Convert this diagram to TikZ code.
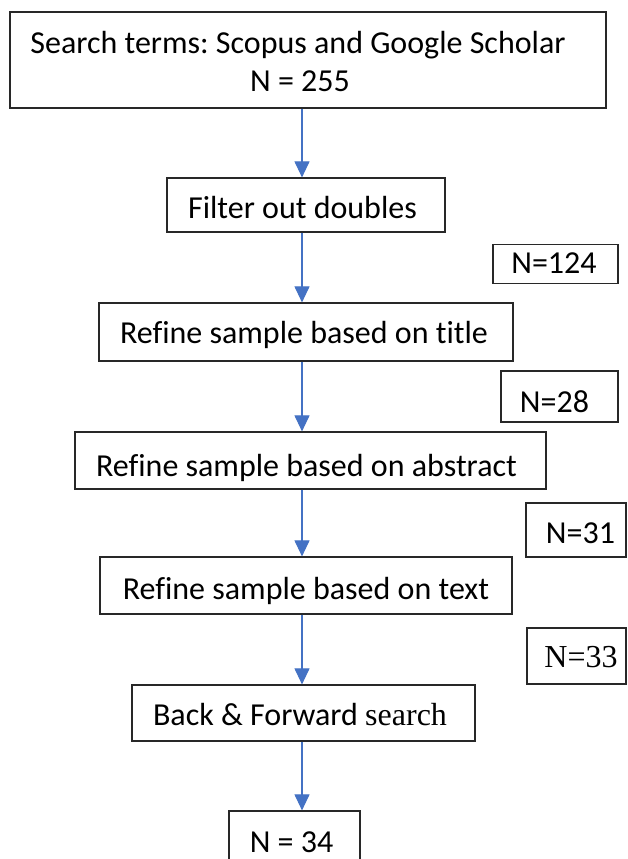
\documentclass[tikz,border=0pt]{standalone}
\usepackage{fontspec}
\setmainfont[Ligatures=NoCommon,RawFeature={-liga;-clig}]{Carlito}
\newfontfamily\timesfont{Liberation Serif}
\usetikzlibrary{arrows.meta}
\definecolor{arrblue}{RGB}{68,114,196}
\definecolor{boxline}{RGB}{40,40,40}
\frenchspacing
\tikzset{
  box/.style={draw=boxline, line width=1.2pt, inner sep=0pt, fill=none},
  txt/.style={inner sep=0pt, anchor=base, font=\fontsize{32}{38}\selectfont},
  arr/.style={draw=arrblue, line width=1.1pt, -{Triangle[width=15pt,length=16pt]}}
}
\begin{document}
\begin{tikzpicture}[x=1pt,y=-1pt]
\useasboundingbox (0,0) rectangle (627,859);
\fill[white] (0,0) rectangle (627,859);
\coordinate (ax) at (302,0);
% boxes
\node[box, minimum width=596pt, minimum height=96pt] (top) at (308,60) {};
\node[box, minimum width=278pt, minimum height=54pt] (filter) at (306,205) {};
\node[box, minimum width=125pt, minimum height=39pt] (n124) at (555.5,264) {};
\node[box, minimum width=414pt, minimum height=58pt] (title) at (306,332) {};
\node[box, minimum width=117pt, minimum height=51pt] (n28) at (559.5,396.5) {};
\node[box, minimum width=471pt, minimum height=57pt] (abstract) at (310.5,460.5) {};
\node[box, minimum width=100pt, minimum height=54pt] (n31) at (576,530) {};
\node[box, minimum width=412pt, minimum height=57pt] (textbox) at (306,585.5) {};
\node[box, minimum width=99pt, minimum height=56pt] (n33) at (576.5,656) {};
\node[box, minimum width=343pt, minimum height=56pt] (back) at (303.5,713) {};
\node[box, minimum width=131pt, minimum height=80pt] (final) at (294.5,851) {};
% texts
\node[txt] (t1a) at (298,53) {Search terms: Scopus and Google Scholar};
\node[txt] (t1b) at (300,92) {N = 255};
\node[txt] (t2) at (302.5,218) {Filter out doubles};
\node[txt] (t3) at (554,273) {N=124};
\node[txt] (t4) at (304,343) {Refine sample based on title};
\node[txt] (t5) at (554.5,412) {N=28};
\node[txt] (t6) at (306.5,476) {Refine sample based on abstract};
\node[txt] (t7) at (580.5,543) {N=31};
\node[txt] (t8) at (306,599) {Refine sample based on text};
\node[txt, font=\fontsize{32}{38}\selectfont\timesfont] (t9) at (581,667) {N=33};
\node[txt] (t10) at (300,725) {Back \& Forward {\timesfont search}};
\node[txt] (t11) at (291.5,852) {N = 34};
% arrows
\draw[arr] (top.south -| ax) -- (filter.north -| ax);
\draw[arr] (filter.south -| ax) -- (title.north -| ax);
\draw[arr] (title.south -| ax) -- (abstract.north -| ax);
\draw[arr] (abstract.south -| ax) -- (textbox.north -| ax);
\draw[arr] (textbox.south -| ax) -- (back.north -| ax);
\draw[arr] (back.south -| ax) -- (final.north -| ax);
\end{tikzpicture}
\end{document}
